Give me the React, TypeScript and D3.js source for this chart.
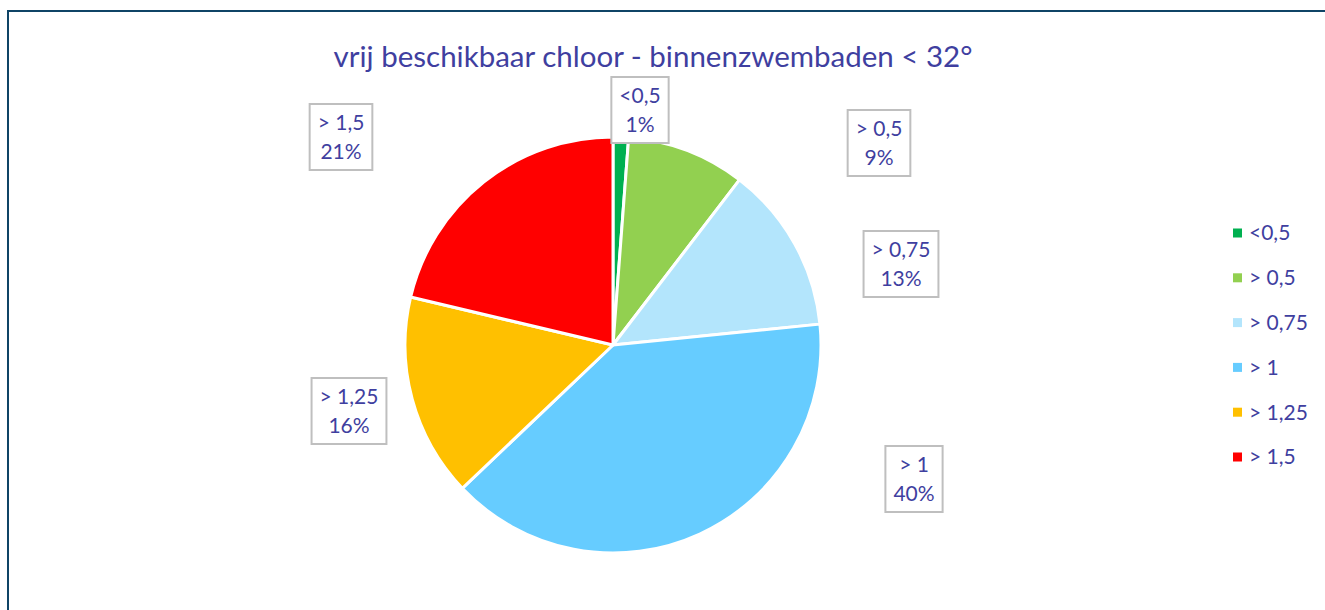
import React, { useEffect, useRef } from "react";
import * as d3 from "d3";

const title = "vrij beschikbaar chloor - binnenzwembaden < 32°";
const categories = ["<0,5", "> 0,5", "> 0,75", "> 1", "> 1,25", "> 1,5"];
const values = [1.2, 9.2, 13.0, 39.5, 15.8, 21.3];
const colors = ["#00b050", "#92d050", "#b3e5fc", "#66ccff", "#ffc000", "#ff0000"];

// label box centers, relative to pie centre (layout)
const labelOffsets: [number, number][] = [
  [27, -235],
  [266, -202],
  [288, -81],
  [301, 134],
  [-264, 66],
  [-272, -208],
];

const TEXT = "#3f3fa0";
const FONT = "Lato, 'Open Sans', sans-serif";

export default function App() {
  const ref = useRef<SVGSVGElement>(null);

  useEffect(() => {
    const svg = d3.select(ref.current);
    svg.selectAll("*").remove();

    const W = 1325, H = 610;
    const cx = 613, cy = 345, r = 208;

    svg.append("rect").attr("width", W).attr("height", H).attr("fill", "#fff");
    svg.append("rect")
      .attr("x", 8).attr("y", 11).attr("width", 1400).attr("height", 700)
      .attr("fill", "none").attr("stroke", "#0f4466").attr("stroke-width", 2);

    svg.append("text")
      .attr("x", 653).attr("y", 67)
      .attr("text-anchor", "middle")
      .attr("font-family", FONT).attr("font-size", 29.5)
      .attr("fill", TEXT).text(title);

    const total = d3.sum(values);
    const pie = d3.pie<number>().sort(null).value((d) => d);
    const arcs = pie(values);
    const arc = d3.arc<d3.PieArcDatum<number>>().innerRadius(0).outerRadius(r);

    const g = svg.append("g").attr("transform", `translate(${cx},${cy})`);
    g.selectAll("path").data(arcs).enter().append("path")
      .attr("d", arc as any)
      .attr("fill", (_d, i) => colors[i])
      .attr("stroke", "#fff").attr("stroke-width", 3).attr("stroke-linejoin", "round");

    // labels
    arcs.forEach((a, i) => {
      const [ox, oy] = labelOffsets[i];
      const lg = g.append("g").attr("transform", `translate(${ox},${oy})`);
      const rect = lg.append("rect");
      const t = lg.append("text")
        .attr("text-anchor", "middle")
        .attr("font-family", FONT).attr("font-size", 21)
        .attr("fill", TEXT);
      t.append("tspan").attr("x", 0).attr("y", -14.5).attr("dy", "0.35em").text(categories[i]);
      t.append("tspan").attr("x", 0).attr("y", 14.5).attr("dy", "0.35em")
        .text(`${Math.round((a.value / total) * 100)}%`);
      const bb = (t.node() as SVGTextElement).getBBox();
      const bw = bb.width + 16;
      const bh = 66;
      rect.attr("x", -bw / 2).attr("y", -bh / 2).attr("width", bw).attr("height", bh)
        .attr("fill", "#fff").attr("stroke", "#bfbfbf").attr("stroke-width", 2);
    });

    // legend
    const legendY = d3.scalePoint<string>().domain(categories).range([233, 457]);
    const lgd = svg.append("g");
    categories.forEach((c, i) => {
      const y = legendY(c)!;
      lgd.append("rect").attr("x", 1233).attr("y", y - 4.5).attr("width", 9).attr("height", 9)
        .attr("fill", colors[i]);
      lgd.append("text").attr("x", 1249).attr("y", y).attr("dy", "0.35em")
        .attr("font-family", FONT).attr("font-size", 21).attr("fill", TEXT).text(c);
    });
  }, []);

  return (
    <svg ref={ref} width={1325} height={610}
      style={{ position: "absolute", left: 0, top: 0, display: "block" }} />
  );
}
